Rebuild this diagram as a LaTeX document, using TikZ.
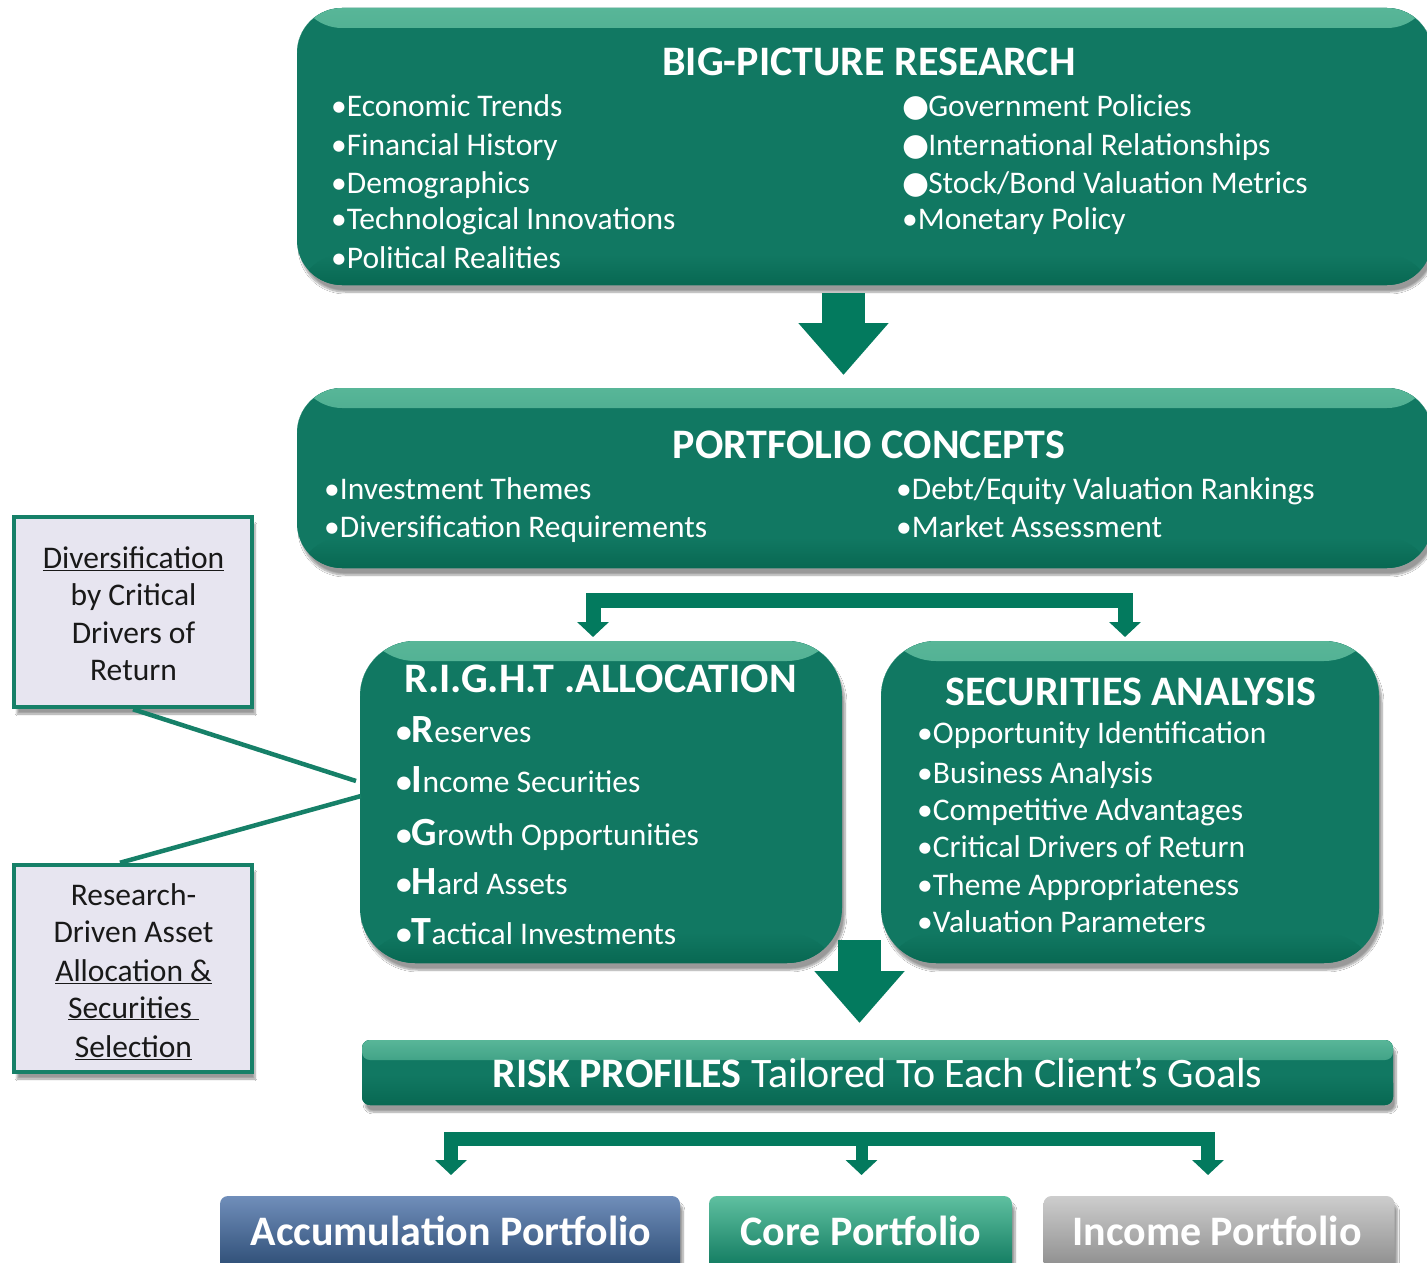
\documentclass[tikz,border=0pt]{standalone}
\usepackage{fontspec}
\setmainfont{Carlito}
\newfontfamily\dejavu{DejaVu Sans}
\usetikzlibrary{arrows.meta,shadows.blur,calc}
\definecolor{boxgreen}{RGB}{17,120,98}
\definecolor{boxdark}{RGB}{8,104,82}
\definecolor{hilite}{RGB}{88,182,152}
\definecolor{arrowgreen}{RGB}{3,122,94}
\definecolor{callfill}{RGB}{231,229,240}
\definecolor{callline}{RGB}{22,128,104}
\definecolor{bluetop}{RGB}{112,142,186}
\definecolor{bluebot}{RGB}{42,74,114}
\definecolor{graytop}{RGB}{205,205,205}
\definecolor{graybot}{RGB}{138,138,138}
\definecolor{coretop}{RGB}{95,192,160}
\definecolor{corebot}{RGB}{12,118,92}
\begin{document}
\begin{tikzpicture}[x=1pt,y=-1pt,
  softshadow/.style={blur shadow={shadow xshift=3pt, shadow yshift=-7pt, shadow blur steps=8, shadow opacity=40}},
  greenbox/.style={rectangle, rounded corners=#1, fill=boxgreen, inner sep=0pt, outer sep=0pt, softshadow,
    path picture={
      \fill[top color=hilite, bottom color=boxgreen] (path picture bounding box.north west) rectangle ([yshift=-20pt]path picture bounding box.north east);
      \fill[top color=boxgreen, bottom color=boxdark] ([yshift=30pt]path picture bounding box.south west) rectangle (path picture bounding box.south east);
    }},
  portbox/.style n args={2}{rectangle, rounded corners=8pt, top color=#1, bottom color=#2, inner sep=0pt, outer sep=0pt, softshadow},
  callout/.style={rectangle, draw=callline, line width=4.5pt, fill=callfill, minimum width=238pt, inner sep=0pt, softshadow},
  boxtitle/.style={text=white, font=\fontsize{42}{50}\selectfont\bfseries, anchor=base, inner sep=0pt},
  item/.style={text=white, font=\fontsize{31.5}{38}\selectfont, anchor=base west, inner sep=0pt},
  rtext/.style={text=white, font=\fontsize{42}{50}\selectfont, anchor=base, inner sep=0pt},
  ptext/.style={text=white, font=\fontsize{42}{50}\selectfont\bfseries, anchor=base, inner sep=0pt},
  ctext/.style={text=black!90, font=\fontsize{31.5}{38}\selectfont, anchor=base, inner sep=0pt},
  blockarrow/.style={arrowgreen, line width=43pt, -{Triangle[width=87pt,length=52pt]}},
  bracket/.style={arrowgreen, line width=#1, line join=miter, -{Triangle[width=31pt,length=15pt]}},
  link/.style={callline, line width=4.5pt}
]
\useasboundingbox (0,0) rectangle (1427,1263);
\fill[white] (0,0) rectangle (1427,1263);
\clip (0,0) rectangle (1427,1263);

% ---------- BIG-PICTURE RESEARCH ----------
\node[greenbox=45pt, minimum width=1135pt, minimum height=277pt] (box1) at (864.5,146.5) {};
\node[boxtitle] (t1) at (869,76) {BIG-PICTURE RESEARCH};
\node[item] (l1) at (331,116) {•Economic Trends};
\node[item] (l2) at (331,155) {•Financial History};
\node[item] (l3) at (331,193) {•Demographics};
\node[item] (l4) at (331,229) {•Technological Innovations};
\node[item] (l5) at (331,268) {•Political Realities};
\node[item] (r1) at (902,116) {{\dejavu\fontsize{31}{31}\selectfont ●}\kern-1pt Government Policies};
\node[item] (r2) at (902,155) {{\dejavu\fontsize{31}{31}\selectfont ●}\kern-1pt International Relationships};
\node[item] (r3) at (902,193) {{\dejavu\fontsize{31}{31}\selectfont ●}\kern-1pt Stock/Bond Valuation Metrics};
\node[item] (r4) at (902,229) {•Monetary Policy};

% ---------- arrow 1 ----------
\coordinate (a1s) at (843.5,293);
\coordinate (a1e) at (843.5,375);
\draw[blockarrow] (a1s) -- (a1e);

% ---------- PORTFOLIO CONCEPTS ----------
\node[greenbox=45pt, minimum width=1135pt, minimum height=180pt] (box2) at (864.5,478) {};
\node[boxtitle] (t2) at (869,458) {PORTFOLIO CONCEPTS};
\node[item] (p1) at (324,499) {•Investment Themes};
\node[item] (p2) at (324,537) {•Diversification Requirements};
\node[item] (p3) at (896,499) {•Debt/Equity Valuation Rankings};
\node[item] (p4) at (896,537) {•Market Assessment};

% ---------- bracket 1 ----------
\coordinate (b1) at (860,600.5);
\coordinate (b1l) at (593,637);
\coordinate (b1r) at (1125,637);
\draw[bracket=15pt] (b1) -| (b1l);
\draw[bracket=15pt] (b1) -| (b1r);

% ---------- R.I.G.H.T ALLOCATION ----------
\node[greenbox=55pt, minimum width=482pt, minimum height=322pt] (box3) at (601,802) {};
\node[boxtitle] (t3) at (600.5,692) {R.I.G.H.T .ALLOCATION};
\node[item] (g1) at (396,742) {\textbf{•}{\fontsize{40}{40}\selectfont\bfseries R}eserves};
\node[item] (g2) at (396,792) {\textbf{•}{\fontsize{40}{40}\selectfont\bfseries I}ncome Securities};
\node[item] (g3) at (396,845) {\textbf{•}{\fontsize{40}{40}\selectfont\bfseries G}rowth Opportunities};
\node[item] (g4) at (396,894) {\textbf{•}{\fontsize{40}{40}\selectfont\bfseries H}ard Assets};
\node[item] (g5) at (396,944) {\textbf{•}{\fontsize{40}{40}\selectfont\bfseries T}actical Investments};

% ---------- SECURITIES ANALYSIS ----------
\node[greenbox=55pt, minimum width=498pt, minimum height=322pt] (box4) at (1130,802) {};
\node[boxtitle] (t4) at (1131,705) {SECURITIES ANALYSIS};
\node[item] (s1) at (917,743) {•Opportunity Identification};
\node[item] (s2) at (917,783) {•Business Analysis};
\node[item] (s3) at (917,820) {•Competitive Advantages};
\node[item] (s4) at (917,857) {•Critical Drivers of Return};
\node[item] (s5) at (917,895) {•Theme Appropriateness};
\node[item] (s6) at (917,932) {•Valuation Parameters};

% ---------- arrow 2 ----------
\coordinate (a2s) at (859.5,940);
\coordinate (a2e) at (859.5,1023);
\draw[blockarrow] (a2s) -- (a2e);

% ---------- RISK PROFILES ----------
\node[greenbox=8pt, minimum width=1031pt, minimum height=65pt] (box5) at (877.5,1072.5) {};
\node[rtext] (t5) at (877.5,1087) {\textbf{RISK PROFILES} Tailored To Each Client’s Goals};

% ---------- bracket 2 ----------
\coordinate (b2) at (861.5,1139);
\coordinate (b2l) at (451,1175);
\coordinate (b2m) at (861.5,1175);
\coordinate (b2r) at (1208,1175);
\draw[bracket=14pt] (b2) -| (b2l);
\draw[bracket=14pt] (b2) -| (b2r);
\draw[bracket=12pt] (b2) -- (b2m);

% ---------- portfolios ----------
\node[portbox={bluetop}{bluebot}, minimum width=460pt, minimum height=76pt] (acc) at (450,1234) {};
\node[ptext] (acct) at (451,1245) {Accumulation Portfolio};
\node[portbox={coretop}{corebot}, minimum width=303pt, minimum height=76pt] (core) at (860.5,1234) {};
\node[ptext] (coret) at (861,1245) {Core Portfolio};
\node[portbox={graytop}{graybot}, minimum width=351pt, minimum height=76pt] (inc) at (1219,1234) {};
\node[ptext] (inct) at (1217,1245) {Income Portfolio};

% ---------- callouts ----------
\node[callout, minimum height=190pt] (cA) at (133,612) {};
\node[ctext] (cA1) at (133.5,568.5) {\underline{Diversification}};
\node[ctext] (cA2) at (133.5,605.5) {by Critical};
\node[ctext] (cA3) at (133.5,643.5) {Drivers of};
\node[ctext] (cA4) at (133.5,680.5) {Return};

\node[callout, minimum height=207pt] (cB) at (133,968.5) {};
\node[ctext] (cB1) at (133.5,905.5) {Research-};
\node[ctext] (cB2) at (133.5,942.5) {Driven Asset};
\node[ctext] (cB3) at (133.5,981.5) {\underline{Allocation \&}};
\node[ctext] (cB4) at (133.5,1018) {\underline{Securities\ }};
\node[ctext] (cB5) at (133.5,1057.5) {\underline{Selection}};

% ---------- links ----------
\coordinate (pA) at (356,781);
\coordinate (pB) at (361,796);
\draw[link] (cA.south) -- (pA);
\draw[link] ([xshift=-13pt]cB.north) -- (pB);
\end{tikzpicture}
\end{document}
